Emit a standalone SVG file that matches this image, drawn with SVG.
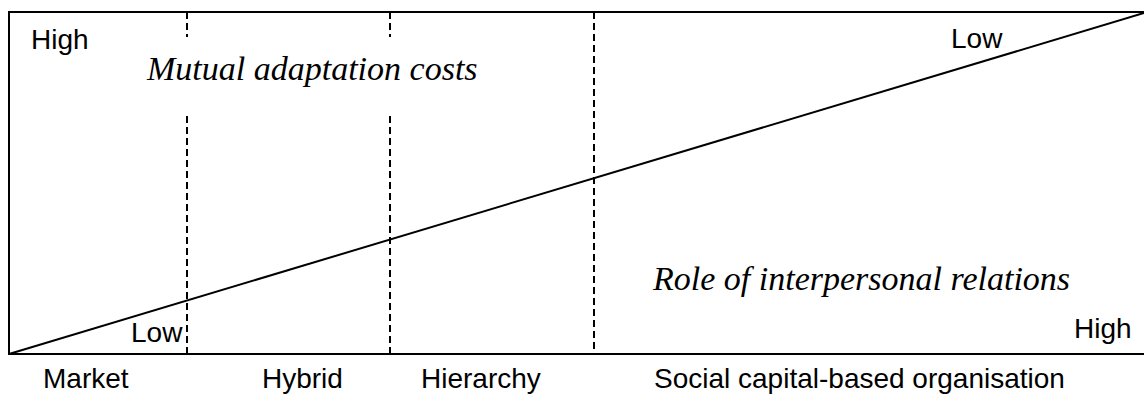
<svg xmlns="http://www.w3.org/2000/svg" width="1144" height="395" viewBox="0 0 1144 395">
  <style>
    .frame { stroke: #000; stroke-width: 2; fill: none; }
    .divider { stroke: #000; stroke-width: 2; stroke-dasharray: 7 4; fill: none; }
    .lbl { font-family: "Liberation Sans", Arial, sans-serif; font-size: 28px; fill: #000; }
    .axis { font-family: "Liberation Serif", "Times New Roman", serif; font-size: 34px; font-style: italic; fill: #000; }
  </style>
  <rect width="1144" height="395" fill="#fff"/>

  <!-- frame: top, left and bottom edges -->
  <g id="frame">
    <path class="frame" d="M1144 12 H9 V354 H1144"/>
  </g>

  <!-- connectors: the trade-off diagonal and the regime dividers -->
  <g id="connectors">
    <line class="frame" x1="9" y1="354" x2="1144" y2="13"/>
    <line class="divider" x1="187" y1="12" x2="187" y2="37"/>
    <line class="divider" x1="187" y1="116" x2="187" y2="354"/>
    <line class="divider" x1="390" y1="12" x2="390" y2="37"/>
    <line class="divider" x1="390" y1="116" x2="390" y2="354"/>
    <line class="divider" x1="594" y1="12" x2="594" y2="354"/>
  </g>

  <g id="cost-axis">
    <text class="lbl" x="31" y="49">High</text>
    <text class="axis" x="147" y="80">Mutual adaptation costs</text>
    <text class="lbl" x="951" y="48">Low</text>
  </g>

  <g id="relations-axis">
    <text class="lbl" x="131" y="342">Low</text>
    <text class="axis" x="653" y="290">Role of interpersonal relations</text>
    <text class="lbl" x="1074" y="338">High</text>
  </g>

  <g id="market"><text class="lbl" x="43" y="388">Market</text></g>
  <g id="hybrid"><text class="lbl" x="262" y="388">Hybrid</text></g>
  <g id="hierarchy"><text class="lbl" x="421" y="388">Hierarchy</text></g>
  <g id="social-capital"><text class="lbl" x="654" y="388">Social capital-based organisation</text></g>
</svg>
